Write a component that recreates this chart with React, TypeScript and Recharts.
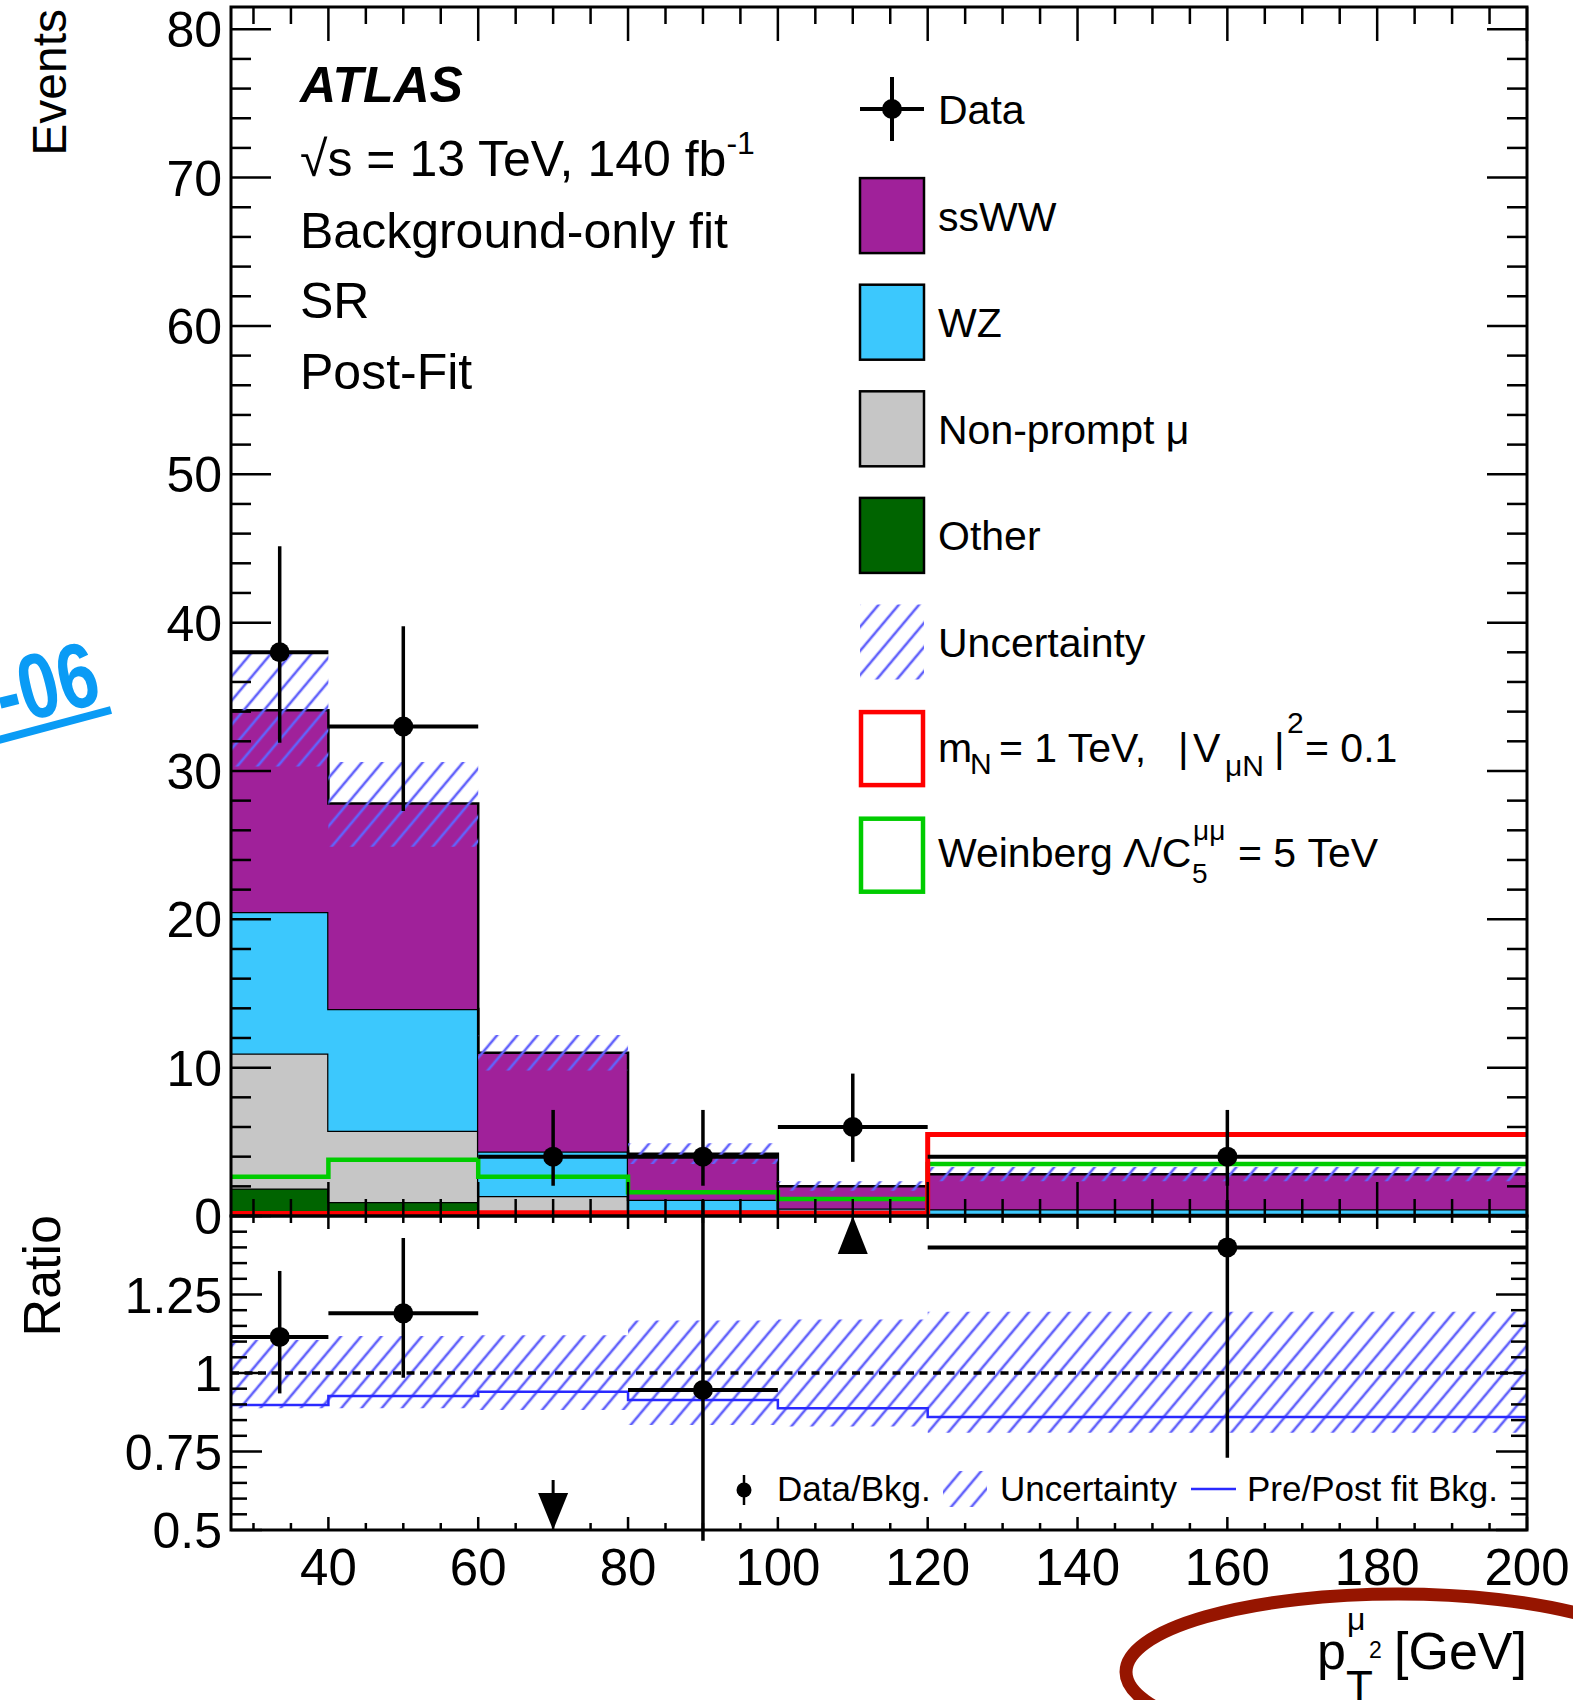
import React from 'react';
import { ComposedChart, Area, Line, Scatter, ErrorBar, XAxis, YAxis, ReferenceLine } from 'recharts';

// histogram binning (GeV)
const binEdges = [27, 40, 60, 80, 100, 120, 200];

// post-fit background stack, events per bin (bottom to top)
const otherBkg = [1.85, 0.95, 0.05, 0.05, 0.05, 0.05];
const nonPromptBkg = [9.1, 4.8, 1.3, 0.3, 0.1, 0.1];
const wzBkg = [9.55, 8.2, 3.0, 0.75, 0.35, 0.3];
const sswwBkg = [13.6, 13.85, 6.65, 3.1, 1.5, 2.37];
const uncLow = [30.3, 24.9, 9.8, 3.5, 1.7, 2.35];
const uncHigh = [37.9, 30.6, 12.2, 4.9, 2.35, 3.3];

// signal overlays
const sigMN = [0.17, 0.17, 0.22, 0.22, 0.2, 5.5];
const sigWeinberg = [2.65, 3.8, 2.65, 1.6, 1.15, 3.5];

// observed data
const dataCounts = [38, 33, 4, 4, 6, 4];
const dataErrLow = [6.1, 5.7, 1.96, 1.96, 2.35, 1.96];
const dataErrHigh = [7.15, 6.75, 3.15, 3.15, 3.6, 3.15];

// ratio panel
const ratioValues = [1.115, 1.19, null, 0.946, null, 1.4];
const ratioErrLow = [0.18, 0.205, 0, 0.48, 0, 0.67];
const ratioErrHigh = [0.21, 0.24, 0, 0.76, 0, 1.1];
const ratioOffScale = [null, null, 'down', null, 'up', null];
const ratioUncLow = [0.888, 0.888, 0.882, 0.834, 0.83, 0.81];
const ratioUncHigh = [1.105, 1.118, 1.12, 1.167, 1.17, 1.195];
const prePostRatio = [0.898, 0.927, 0.94, 0.914, 0.888, 0.86];

// axis ticks
const xTicks = [30, 35, 40, 45, 50, 55, 60, 65, 70, 75, 80, 85, 90, 95, 100, 105, 110, 115, 120, 125, 130, 135, 140, 145, 150, 155, 160, 165, 170, 175, 180, 185, 190, 195, 200];
const yTicksTop = Array.from({ length: 41 }, (_, i) => i * 2);
const yTicksRatio = Array.from({ length: 21 }, (_, i) => Math.round((0.5 + i * 0.05) * 100) / 100);

const FONT = '"Liberation Sans", Arial, Helvetica, sans-serif';
const HATCH = '#6262fb';
const C_SSWW = '#a0219a';
const C_WZ = '#3cc8fd';
const C_NP = '#c6c6c6';
const C_OTHER = '#006400';

const TOP = { t: 7, b: 1216, l: 231, r: 1527 };
const RAT = { t: 16, b: 330, l: 231, r: 1527 }; // ratio chart is placed at page y = 1200

const histRows = binEdges.map((x, i) => {
  const b = Math.min(i, 5);
  return {
    x,
    other: otherBkg[b],
    nonprompt: nonPromptBkg[b],
    wz: wzBkg[b],
    ssww: sswwBkg[b],
    unc: [uncLow[b], uncHigh[b]],
    mn: sigMN[b],
    wein: sigWeinberg[b],
  };
});

const ratioRows = binEdges.map((x, i) => {
  const b = Math.min(i, 5);
  return { x, band: [ratioUncLow[b], ratioUncHigh[b]], prepost: prePostRatio[b] };
});

const binCenter = (i: number) => (binEdges[i] + binEdges[i + 1]) / 2;
const binHalf = (i: number) => (binEdges[i + 1] - binEdges[i]) / 2;

const dataPoints = dataCounts.map((y, i) => ({
  x: binCenter(i),
  y,
  ey: [dataErrLow[i], dataErrHigh[i]],
  ex: binHalf(i),
}));

const ratioPoints = ratioValues
  .map((y, i) => (y == null ? null : { x: binCenter(i), y, ey: [ratioErrLow[i], ratioErrHigh[i]], ex: binHalf(i) }))
  .filter(Boolean) as any[];

const arrowPoints = ratioOffScale
  .map((d, i) => (d == null ? null : { x: binCenter(i), y: d === 'up' ? 1.5 : 0.5, dir: d }))
  .filter(Boolean) as any[];

const Hatch = ({ id }: { id: string }) => (
  <pattern id={id} patternUnits="userSpaceOnUse" width={15.5} height={15.5} patternTransform="rotate(40)">
    <line x1={7.75} y1={0} x2={7.75} y2={15.5} stroke={HATCH} strokeWidth={2.6} />
  </pattern>
);

const TopXTick = (props: any) => {
  const { x, payload } = props;
  const len = payload.value % 20 === 0 ? 34 : 17;
  return (
    <g>
      <line x1={x} x2={x} y1={TOP.b} y2={TOP.b - len} stroke="#000" strokeWidth={2.5} />
      <line x1={x} x2={x} y1={TOP.t} y2={TOP.t + len} stroke="#000" strokeWidth={2.5} />
    </g>
  );
};

const TopYTick = (props: any) => {
  const { y, payload } = props;
  const v = payload.value;
  const major = v % 10 === 0;
  const len = major ? 40 : 20;
  return (
    <g>
      <line x1={TOP.l} x2={TOP.l + len} y1={y} y2={y} stroke="#000" strokeWidth={2.5} />
      <line x1={TOP.r} x2={TOP.r - len} y1={y} y2={y} stroke="#000" strokeWidth={2.5} />
      {major && (
        <text x={TOP.l - 9} y={y + 18} textAnchor="end" fontSize={50} fontFamily={FONT} fill="#000">
          {v}
        </text>
      )}
    </g>
  );
};

const RatioXTick = (props: any) => {
  const { x, payload } = props;
  const major = payload.value % 20 === 0;
  const len = major ? 13 : 7;
  return (
    <g>
      <line x1={x} x2={x} y1={RAT.b} y2={RAT.b - len} stroke="#000" strokeWidth={2.5} />
      <line x1={x} x2={x} y1={RAT.t} y2={RAT.t + len} stroke="#000" strokeWidth={2.5} />
      {major && (
        <text x={x} y={385} textAnchor="middle" fontSize={51} fontFamily={FONT} fill="#000">
          {payload.value}
        </text>
      )}
    </g>
  );
};

const RatioYTick = (props: any) => {
  const { y, payload } = props;
  const v = payload.value;
  const major = Math.round(v * 100) % 25 === 0;
  const len = major ? 31 : 16;
  return (
    <g>
      <line x1={RAT.l} x2={RAT.l + len} y1={y} y2={y} stroke="#000" strokeWidth={2.5} />
      <line x1={RAT.r} x2={RAT.r - len} y1={y} y2={y} stroke="#000" strokeWidth={2.5} />
      {major && v < 1.5 && (
        <text x={RAT.l - 9} y={y + 18} textAnchor="end" fontSize={50} fontFamily={FONT} fill="#000">
          {String(v)}
        </text>
      )}
    </g>
  );
};

const DataDot = (props: any) => <circle cx={props.cx} cy={props.cy} r={10} fill="#000" />;

const ArrowMark = (props: any) => {
  const { cx, cy, payload } = props;
  if (payload.dir === 'up') {
    return <polygon points={`${cx},${cy} ${cx - 15},${cy + 38} ${cx + 15},${cy + 38}`} fill="#000" />;
  }
  return (
    <g>
      <line x1={cx} x2={cx} y1={cy - 50} y2={cy - 36} stroke="#000" strokeWidth={3} />
      <polygon points={`${cx},${cy} ${cx - 15},${cy - 37} ${cx + 15},${cy - 37}`} fill="#000" />
    </g>
  );
};

const TopPanel = () => (
  <ComposedChart width={1573} height={1260} data={histRows} margin={{ top: TOP.t, right: 1573 - TOP.r, bottom: 0, left: 0 }}>
    <defs>
      <Hatch id="hatchTop" />
    </defs>
    <Area type="stepAfter" dataKey="other" stackId="bkg" fill={C_OTHER} fillOpacity={1} stroke="#000" strokeWidth={2.5} isAnimationActive={false} />
    <Area type="stepAfter" dataKey="nonprompt" stackId="bkg" fill={C_NP} fillOpacity={1} stroke="#000" strokeWidth={2.5} isAnimationActive={false} />
    <Area type="stepAfter" dataKey="wz" stackId="bkg" fill={C_WZ} fillOpacity={1} stroke="#000" strokeWidth={2.5} isAnimationActive={false} />
    <Area type="stepAfter" dataKey="ssww" stackId="bkg" fill={C_SSWW} fillOpacity={1} stroke="#000" strokeWidth={2.5} isAnimationActive={false} />
    <Area type="stepAfter" dataKey="unc" fill="url(#hatchTop)" fillOpacity={1} stroke="none" isAnimationActive={false} />
    <Line type="stepAfter" dataKey="wein" stroke="#00cc00" strokeWidth={4.5} dot={false} isAnimationActive={false} />
    <Line type="stepAfter" dataKey="mn" stroke="#ff0000" strokeWidth={5} dot={false} isAnimationActive={false} />
    <Scatter data={dataPoints} dataKey="y" shape={DataDot} isAnimationActive={false}>
      <ErrorBar dataKey="ey" direction="y" width={0} stroke="#000" strokeWidth={3.5} isAnimationActive={false} />
      <ErrorBar dataKey="ex" direction="x" width={0} stroke="#000" strokeWidth={4} isAnimationActive={false} />
    </Scatter>
    <XAxis type="number" dataKey="x" domain={[27, 200]} ticks={xTicks} interval={0} allowDataOverflow height={1260 - TOP.b} axisLine={false} tickLine={false} tick={TopXTick} />
    <YAxis type="number" domain={[0, 81.5]} ticks={yTicksTop} interval={0} allowDataOverflow width={TOP.l} axisLine={false} tickLine={false} tick={TopYTick} />
  </ComposedChart>
);

const RatioPanel = () => (
  <ComposedChart width={1573} height={400} data={ratioRows} margin={{ top: RAT.t, right: 1573 - RAT.r, bottom: 0, left: 0 }}>
    <defs>
      <Hatch id="hatchRatio" />
    </defs>
    <Area type="stepAfter" dataKey="band" fill="url(#hatchRatio)" fillOpacity={1} stroke="none" isAnimationActive={false} />
    <ReferenceLine y={1} stroke="#000" strokeWidth={3.5} strokeDasharray="8 5.5" />
    <Line type="stepAfter" dataKey="prepost" stroke="#2a2aff" strokeWidth={2.5} dot={false} isAnimationActive={false} />
    <Scatter data={ratioPoints} dataKey="y" shape={DataDot} isAnimationActive={false}>
      <ErrorBar dataKey="ey" direction="y" width={0} stroke="#000" strokeWidth={3.5} isAnimationActive={false} />
      <ErrorBar dataKey="ex" direction="x" width={0} stroke="#000" strokeWidth={4} isAnimationActive={false} />
    </Scatter>
    <Scatter data={arrowPoints} dataKey="y" shape={ArrowMark} isAnimationActive={false} />
    <XAxis type="number" dataKey="x" domain={[27, 200]} ticks={xTicks} interval={0} allowDataOverflow height={400 - RAT.b} axisLine={false} tickLine={false} tick={RatioXTick} />
    <YAxis type="number" domain={[0.5, 1.5]} ticks={yTicksRatio} interval={0} allowDataOverflow width={RAT.l} axisLine={false} tickLine={false} tick={RatioYTick} />
  </ComposedChart>
);

const legendY = (i: number) => 109 + 106.6 * i;

const Overlay = () => (
  <svg width={1573} height={1700} style={{ position: 'absolute', left: 0, top: 0, pointerEvents: 'none' }} fontFamily={FONT}>
    <defs>
      <Hatch id="hatchLegend" />
    </defs>
    {/* frames */}
    <rect x={TOP.l} y={TOP.t} width={TOP.r - TOP.l} height={TOP.b - TOP.t} fill="none" stroke="#000" strokeWidth={3} />
    <rect x={RAT.l} y={1200 + RAT.t} width={RAT.r - RAT.l} height={RAT.b - RAT.t} fill="none" stroke="#000" strokeWidth={3} />

    {/* axis titles */}
    <text transform="translate(66,9) rotate(-90)" textAnchor="end" fontSize={48}>Events</text>
    <text transform="translate(60,1215) rotate(-90)" textAnchor="end" fontSize={52}>Ratio</text>
    <text x={1317} y={1669} fontSize={52}>p</text>
    <text x={1346} y={1702} fontSize={44}>T</text>
    <text x={1347} y={1630} fontSize={32}>μ</text>
    <text x={1369} y={1658} fontSize={23}>2</text>
    <text x={1527} y={1669} fontSize={52} textAnchor="end">[GeV]</text>

    {/* ATLAS label block */}
    <text x={300} y={102} fontSize={50} fontWeight="bold" fontStyle="italic">ATLAS</text>
    <text x={300} y={176} fontSize={50}>
      √s = 13 TeV, 140 fb<tspan dy={-22} fontSize={32}>-1</tspan>
    </text>
    <text x={300} y={248} fontSize={50}>Background-only fit</text>
    <text x={300} y={318} fontSize={50}>SR</text>
    <text x={300} y={389} fontSize={50}>Post-Fit</text>

    {/* legend */}
    <line x1={860} x2={924} y1={legendY(0)} y2={legendY(0)} stroke="#000" strokeWidth={4} />
    <line x1={892} x2={892} y1={legendY(0) - 32} y2={legendY(0) + 32} stroke="#000" strokeWidth={4} />
    <circle cx={892} cy={legendY(0)} r={10} fill="#000" />
    <text x={938} y={legendY(0) + 15} fontSize={41}>Data</text>

    <rect x={860} y={legendY(1) - 37.5} width={64} height={75} fill={C_SSWW} stroke="#000" strokeWidth={2.5} />
    <text x={938} y={legendY(1) + 15} fontSize={41}>ssWW</text>

    <rect x={860} y={legendY(2) - 37.5} width={64} height={75} fill={C_WZ} stroke="#000" strokeWidth={2.5} />
    <text x={938} y={legendY(2) + 15} fontSize={41}>WZ</text>

    <rect x={860} y={legendY(3) - 37.5} width={64} height={75} fill={C_NP} stroke="#000" strokeWidth={2.5} />
    <text x={938} y={legendY(3) + 15} fontSize={41}>Non-prompt μ</text>

    <rect x={860} y={legendY(4) - 37.5} width={64} height={75} fill={C_OTHER} stroke="#000" strokeWidth={2.5} />
    <text x={938} y={legendY(4) + 15} fontSize={41}>Other</text>

    <rect x={860} y={legendY(5) - 37.5} width={64} height={75} fill="url(#hatchLegend)" />
    <text x={938} y={legendY(5) + 15} fontSize={41}>Uncertainty</text>

    <rect x={861} y={legendY(6) - 36.5} width={62} height={73} fill="none" stroke="#ff0000" strokeWidth={4.5} />
    <text y={legendY(6) + 13} fontSize={41}>
      <tspan x={938}>m</tspan>
      <tspan x={970} y={legendY(6) + 25} fontSize={30}>N</tspan>
      <tspan x={999} y={legendY(6) + 13}>= 1 TeV,</tspan>
      <tspan x={1178}>|</tspan>
      <tspan x={1193}>V</tspan>
      <tspan x={1225} y={legendY(6) + 27} fontSize={30}>μN</tspan>
      <tspan x={1274} y={legendY(6) + 13}>|</tspan>
      <tspan x={1287} y={legendY(6) - 16} fontSize={30}>2</tspan>
      <tspan x={1305} y={legendY(6) + 13}>= 0.1</tspan>
    </text>

    <rect x={861} y={legendY(7) - 36.5} width={62} height={73} fill="none" stroke="#00cc00" strokeWidth={4.5} />
    <text y={legendY(7) + 12} fontSize={41}>
      <tspan x={938}>Weinberg</tspan>
      <tspan x={1123}>Λ/C</tspan>
      <tspan x={1193} y={legendY(7) - 15} fontSize={28}>μμ</tspan>
      <tspan x={1192} y={legendY(7) + 28} fontSize={28}>5</tspan>
      <tspan x={1238} y={legendY(7) + 12}>= 5 TeV</tspan>
    </text>

    {/* ratio legend */}
    <line x1={744} x2={744} y1={1475} y2={1505} stroke="#000" strokeWidth={2.5} />
    <circle cx={744} cy={1490} r={7.5} fill="#000" />
    <text x={777} y={1501} fontSize={35}>Data/Bkg.</text>
    <rect x={943} y={1471} width={44} height={36} fill="url(#hatchLegend)" />
    <text x={1000} y={1501} fontSize={35}>Uncertainty</text>
    <line x1={1191} x2={1236} y1={1489} y2={1489} stroke="#2a2aff" strokeWidth={2.5} />
    <text x={1247} y={1501} fontSize={35}>Pre/Post fit Bkg.</text>

    {/* annotations on the page */}
    <ellipse cx={1398} cy={1672} rx={272} ry={78} fill="none" stroke="#961500" strokeWidth={13} />
    <text transform="translate(104,702) rotate(-14) scale(0.78,1)" textAnchor="end" fontSize={92} fontWeight="bold" fill="#0a9bf5">-06</text>
    <line x1={-5} y1={741} x2={111} y2={710} stroke="#0a9bf5" strokeWidth={8} />
  </svg>
);

export default function App() {
  return (
    <div style={{ position: 'relative', width: 1573, height: 1700, background: '#fff', overflow: 'hidden' }}>
      <style>{'body{margin:0}'}</style>
      <div style={{ position: 'absolute', left: 0, top: 0 }}>
        <TopPanel />
      </div>
      <div style={{ position: 'absolute', left: 0, top: 1200 }}>
        <RatioPanel />
      </div>
      <Overlay />
    </div>
  );
}
